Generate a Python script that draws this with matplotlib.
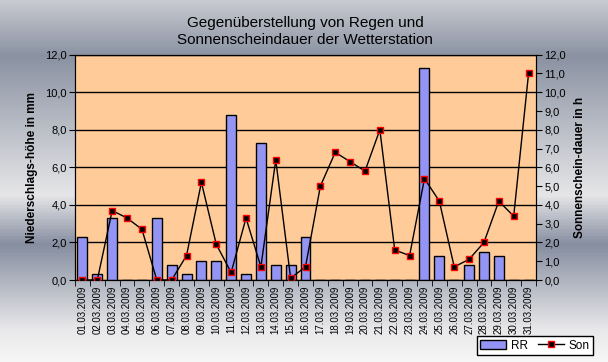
import matplotlib.pyplot as plt
import numpy as np
from matplotlib.colors import LinearSegmentedColormap

plt.rcParams['font.family'] = ['Liberation Sans', 'DejaVu Sans']

# Daily data March 2009
dates = ["%02d.03.2009" % d for d in range(1, 32)]
rr = [2.3, 0.3, 3.3, 0.0, 0.0, 3.3, 0.8, 0.3, 1.0, 1.0,
      8.8, 0.3, 7.3, 0.8, 0.8, 2.3, 0.0, 0.0, 0.0, 0.0,
      0.0, 0.0, 0.0, 11.3, 1.3, 0.0, 0.8, 1.5, 1.3, 0.0, 0.0]
son = [0.0, 0.0, 3.7, 3.3, 2.7, 0.0, 0.0, 1.3, 5.2, 1.9,
       0.4, 3.3, 0.7, 6.4, 0.1, 0.7, 5.0, 6.8, 6.3, 5.8,
       8.0, 1.6, 1.3, 5.4, 4.2, 0.7, 1.1, 2.0, 4.2, 3.4, 11.0]

fig = plt.figure(figsize=(6.08, 3.62), dpi=100)

# metallic background gradient
bg = fig.add_axes([0, 0, 1, 1], zorder=-10)
stops = [(0.0, '#c8cad0'), (55 / 362, '#8a92a2'), (195 / 362, '#e6e6e8'),
         (245 / 362, '#868ea0'), (330 / 362, '#e8e8ea'), (1.0, '#f6f6f6')]
cmap = LinearSegmentedColormap.from_list('metal', stops)
bg.imshow(np.linspace(0, 1, 362).reshape(-1, 1), aspect='auto', cmap=cmap,
          extent=[0, 1, 1, 0])
bg.axis('off')

ax = fig.add_axes([75 / 608, 1 - 280 / 362, 461 / 608, 225.3 / 362])
ax.set_facecolor('#ffcc99')
x = np.arange(len(dates))
ax.bar(x, rr, width=0.67, color='#9494f4', edgecolor='black', linewidth=1,
       zorder=3, label='RR')
ax.set_xlim(-0.5, len(dates) - 0.5)
ax.set_ylim(0, 12)
ax.set_yticks(np.arange(0, 12.1, 2))
ax.set_yticklabels([("%.1f" % v).replace('.', ',') for v in np.arange(0, 12.1, 2)],
                   fontsize=8)
ax.yaxis.grid(True, color='black', linewidth=1)
ax.set_axisbelow(True)
ax.set_xticks(x)
ax.set_xticklabels(dates, rotation=90, fontsize=7)
ax.set_xticks(np.arange(-0.5, len(dates), 1), minor=True)
ax.tick_params(axis='x', which='major', length=0, pad=4)
ax.tick_params(axis='x', which='minor', length=4, direction='out', color='black')
ax.tick_params(axis='y', length=4, direction='out', color='black', pad=2)
for s in ax.spines.values():
    s.set_color('black')
ax.set_ylabel('Niederschlags-höhe in mm', fontsize=8.5, fontweight='bold',
              labelpad=5)

ax2 = ax.twinx()
ax2.plot(x, son, color='black', linewidth=1, marker='s', markersize=5,
         markerfacecolor='black', markeredgecolor='red', markeredgewidth=1,
         zorder=4, label='Son')
ax2.set_ylim(0, 12)
ax2.set_yticks(np.arange(0, 12.1, 1))
ax2.set_yticklabels([("%.1f" % v).replace('.', ',') for v in np.arange(0, 12.1, 1)],
                    fontsize=8)
ax2.tick_params(axis='y', length=4, direction='out', color='black', pad=2)
ax2.set_ylabel('Sonnenschein-dauer in h', fontsize=8.5, fontweight='bold',
               labelpad=6)

fig.text(0.502, 0.955, 'Gegenüberstellung von Regen und\nSonnenscheindauer der Wetterstation',
         ha='center', va='top', fontsize=11, linespacing=1.25)

h1, l1 = ax.get_legend_handles_labels()
h2, l2 = ax2.get_legend_handles_labels()
leg = fig.legend(h1 + h2, l1 + l2, loc='lower right', ncol=2,
                 bbox_to_anchor=(0.975, 0.019), bbox_transform=fig.transFigure,
                 fancybox=False, edgecolor='black', framealpha=1, fontsize=8.5,
                 borderaxespad=0, handlelength=2.2, columnspacing=0.8,
                 borderpad=0.3, handletextpad=0.4)
leg.get_frame().set_linewidth(1)

fig.savefig('out.png', dpi=100)
